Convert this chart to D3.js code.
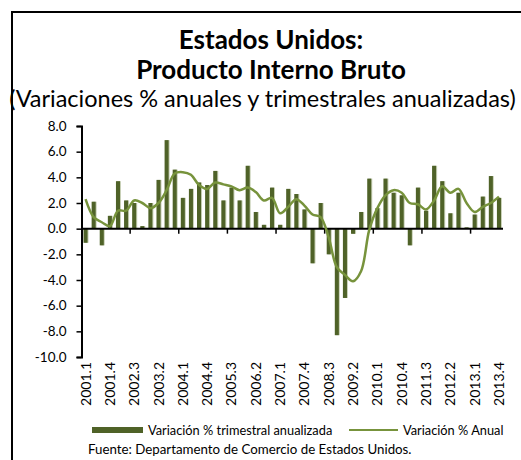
<html>
<head>
    <meta charset="utf-8">
    <title>PIB Estados Unidos</title>
    <script src="https://d3js.org/d3.v7.min.js"></script>
    <style>
        body { margin: 0; background: #fff; }
        text { font-family: Lato, "Liberation Sans", sans-serif; fill: #000; }
    </style>
</head>
<body>
    <svg id="chart" width="521" height="460"></svg>

    <script>
        // quarters 2001.1 .. 2013.4
        const years = d3.range(2001, 2014);
        const quarters = [];
        years.forEach(y => [1, 2, 3, 4].forEach(q => quarters.push(y + "." + q)));

        // Variación % trimestral anualizada (bars)
        const trimestral = [
            -1.1, 2.1, -1.3, 1.0, 3.7, 2.2, 2.0, 0.2,
            2.0, 3.8, 6.9, 4.6, 2.4, 3.1, 3.6, 3.4,
            4.5, 2.2, 3.2, 2.2, 4.9, 1.3, 0.3, 3.2,
            0.3, 3.1, 2.7, 1.5, -2.7, 2.0, -2.0, -8.3,
            -5.4, -0.4, 1.3, 3.9, 1.6, 3.9, 2.8, 2.6,
            -1.3, 3.2, 1.4, 4.9, 3.7, 1.2, 2.8, 0.1,
            1.1, 2.5, 4.1, 2.4
        ];

        // Variación % anual (line)
        const anual = [
            2.3, 0.9, 0.5, 0.2, 1.4, 1.4, 2.2, 2.0,
            1.6, 2.0, 3.0, 4.3, 4.4, 4.2, 3.4, 3.1,
            3.6, 3.45, 3.3, 3.0, 3.2, 2.85, 2.2, 2.4,
            1.2, 1.7, 2.3, 1.8, 1.1, 0.9, -0.7, -3.0,
            -3.6, -4.1, -3.3, -0.1, 1.6, 2.6, 3.0, 2.8,
            2.0, 1.9, 1.5, 2.2, 3.3, 2.8, 3.1, 2.0,
            1.3, 1.7, 2.0, 2.5
        ];

        const yTicks = [8, 6, 4, 2, 0, -2, -4, -6, -8, -10];

        const barColor = "#4F6228";
        const lineColor = "#77933C";

        const svg = d3.select("#chart");

        // outer frame (runs off the right/bottom edge like the original)
        svg.append("rect")
            .attr("x", 12).attr("y", 12)
            .attr("width", 530).attr("height", 470)
            .attr("fill", "none")
            .attr("stroke", "#000")
            .attr("stroke-width", 2);

        // titles
        svg.append("text").attr("x", 271).attr("y", 49)
            .attr("text-anchor", "middle")
            .style("font-size", "26px").style("font-weight", "bold")
            .text("Estados Unidos:");
        svg.append("text").attr("x", 271).attr("y", 79)
            .attr("text-anchor", "middle")
            .style("font-size", "26px").style("font-weight", "bold")
            .text("Producto Interno Bruto");
        svg.append("text").attr("x", 262.5).attr("y", 107)
            .attr("text-anchor", "middle")
            .style("font-size", "23.5px")
            .text("(Variaciones % anuales y trimestrales anualizadas)");

        // scales
        const x = d3.scaleBand().domain(quarters).range([81.5, 503]).paddingInner(0.5).paddingOuter(0.25);
        const xc = d3.scaleBand().domain(quarters).range([81.5, 503]); // full bands, for centers/ticks
        const y = d3.scaleLinear().domain([-10, 8]).range([357, 126]);

        // y axis
        const yAxis = svg.append("g")
            .attr("transform", "translate(81.5,0)")
            .call(d3.axisLeft(y).tickValues(yTicks).tickSize(5).tickPadding(10));
        yAxis.select(".domain").attr("stroke-width", 2);
        yAxis.selectAll(".tick line").attr("stroke-width", 1.5);
        yAxis.selectAll("text").style("font-size", "13.5px")
            .style("font-family", "Lato, 'Liberation Sans', sans-serif")
            .text(d => d3.format(".1f")(d).replace("−", "-"));

        // bars (with faint right-hand shadow)
        svg.append("g").selectAll("rect")
            .data(trimestral)
            .join("rect")
            .attr("x", (d, i) => x(quarters[i]) + 1)
            .attr("y", d => Math.min(y(d), y(0)))
            .attr("width", x.bandwidth())
            .attr("height", d => Math.abs(y(d) - y(0)))
            .attr("fill", "#c9d1b8");
        svg.append("g").selectAll("rect")
            .data(trimestral)
            .join("rect")
            .attr("x", (d, i) => x(quarters[i]))
            .attr("y", d => Math.min(y(d), y(0)))
            .attr("width", x.bandwidth())
            .attr("height", d => Math.abs(y(d) - y(0)))
            .attr("fill", barColor);

        // x axis line at zero with ticks every 6 quarters
        svg.append("line")
            .attr("x1", 81.5).attr("x2", 503)
            .attr("y1", y(0)).attr("y2", y(0))
            .attr("stroke", "#000").attr("stroke-width", 2);
        svg.append("g").selectAll("line")
            .data(quarters.filter((q, i) => i % 6 === 0 && i > 0))
            .join("line")
            .attr("x1", d => xc(d)).attr("x2", d => xc(d))
            .attr("y1", y(0)).attr("y2", y(0) + 5)
            .attr("stroke", "#000").attr("stroke-width", 1.5);

        // annual line
        const line = d3.line()
            .x((d, i) => xc(quarters[i]) + xc.bandwidth() / 2)
            .y(d => y(d))
            .curve(d3.curveCatmullRom.alpha(0.5));
        svg.append("path")
            .datum(anual)
            .attr("d", line)
            .attr("fill", "none")
            .attr("stroke", lineColor)
            .attr("stroke-width", 2.5)
            .attr("stroke-linejoin", "round");

        // category labels, every 3 quarters, rotated
        svg.append("g").selectAll("text")
            .data(quarters.filter((q, i) => i % 3 === 0))
            .join("text")
            .attr("transform", d => `translate(${xc(d) + xc.bandwidth() / 2 + 5},362) rotate(-90)`)
            .attr("text-anchor", "end")
            .style("font-size", "14px")
            .text(d => d);

        // legend
        svg.append("rect")
            .attr("x", 92).attr("y", 427).attr("width", 51).attr("height", 6)
            .attr("fill", barColor);
        svg.append("text").attr("x", 148).attr("y", 435)
            .style("font-size", "12.8px")
            .text("Variación % trimestral anualizada");
        svg.append("line")
            .attr("x1", 349).attr("x2", 398).attr("y1", 430).attr("y2", 430)
            .attr("stroke", lineColor).attr("stroke-width", 2);
        svg.append("text").attr("x", 403).attr("y", 435)
            .style("font-size", "12.8px")
            .text("Variación % Anual");

        // source
        svg.append("text").attr("x", 88).attr("y", 454)
            .style("font-size", "13.3px")
            .text("Fuente: Departamento de Comercio de Estados Unidos.");
    </script>
</body>
</html>
